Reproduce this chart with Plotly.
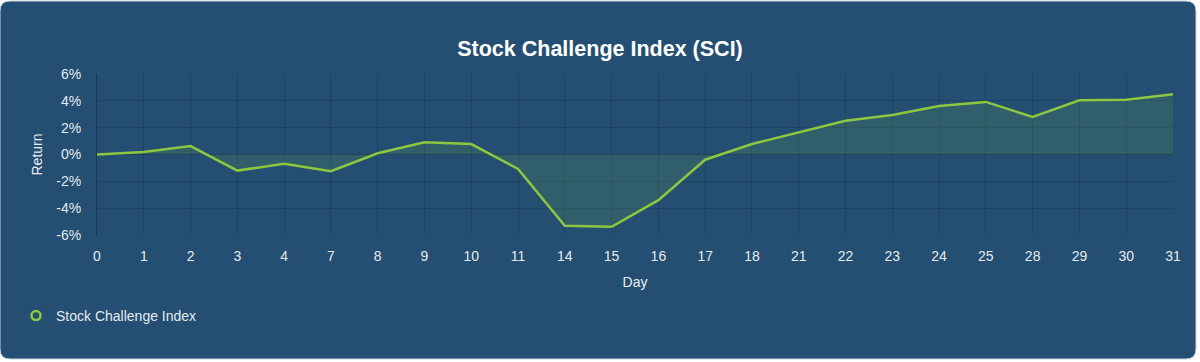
import plotly.graph_objects as go

days = ["0", "1", "2", "3", "4", "7", "8", "9", "10", "11", "14", "15", "16", "17",
        "18", "21", "22", "23", "24", "25", "28", "29", "30", "31"]
returns = [0.0, 0.18, 0.63, -1.2, -0.69, -1.25, 0.09, 0.91, 0.78, -1.08, -5.31, -5.39,
           -3.4, -0.39, 0.78, 1.66, 2.52, 2.95, 3.62, 3.92, 2.80, 4.04, 4.09, 4.49]
y_tick_values = [-6, -4, -2, 0, 2, 4, 6]
y_tick_labels = ["-6%", "-4%", "-2%", "0%", "2%", "4%", "6%"]
series_name = "Stock Challenge Index"
title_text = "Stock Challenge Index (SCI)"

W, H = 1200, 362
L, R, T, B = 97, 27, 74, 127
pw, ph = W - L - R, H - T - B

def px(x):
    return (x - L) / pw

def py(y):
    return (H - B - y) / ph

BG = "#244f72"
GREEN = "#8dc63f"
TXT = "rgba(255,255,255,0.9)"

# rounded card path in paper coordinates
x0, x1, y0, y1, rr = 0, 1196, 1, 359, 10
path = (
    f"M {px(x0 + rr)} {py(y0)} L {px(x1 - rr)} {py(y0)} "
    f"Q {px(x1)} {py(y0)} {px(x1)} {py(y0 + rr)} "
    f"L {px(x1)} {py(y1 - rr)} Q {px(x1)} {py(y1)} {px(x1 - rr)} {py(y1)} "
    f"L {px(x0 + rr)} {py(y1)} Q {px(x0)} {py(y1)} {px(x0)} {py(y1 - rr)} "
    f"L {px(x0)} {py(y0 + rr)} Q {px(x0)} {py(y0)} {px(x0 + rr)} {py(y0)} Z"
)

fig = go.Figure()
fig.add_trace(go.Scatter(
    x=days, y=returns, mode="lines", fill="tozeroy",
    fillcolor="rgba(141,198,63,0.13)",
    line=dict(color=GREEN, width=2.5), showlegend=False, name=series_name,
))
fig.add_trace(go.Scatter(
    x=[None], y=[None], mode="markers", name=series_name,
    marker=dict(symbol="circle-open", color=GREEN, size=9, line=dict(width=2.5, color=GREEN)),
))

font_family = "Liberation Sans, Arial, sans-serif"
fig.update_layout(
    width=W, height=H,
    margin=dict(l=L, r=R, t=T, b=B, pad=0),
    paper_bgcolor="white",
    plot_bgcolor="rgba(0,0,0,0)",
    font=dict(family=font_family, color=TXT, size=14),
    title=dict(text=f"<b>{title_text}</b>", x=0.5, xanchor="center",
               y=1 - 48 / H, yanchor="middle",
               font=dict(size=21.5, color="white", family=font_family)),
    shapes=[dict(type="path", path=path, xref="paper", yref="paper",
                 fillcolor=BG, line=dict(width=1, color="#c9d3dc"), layer="below")],
    xaxis=dict(
        type="category", range=[0, len(days) - 1],
        showgrid=True, gridcolor="rgba(0,0,0,0.13)", gridwidth=1,
        zeroline=False, showline=False, ticks="",
        ticklabelstandoff=11,
        tickfont=dict(size=14, color=TXT),
        title=dict(text="Day", standoff=14, font=dict(size=14, color=TXT)),
    ),
    yaxis=dict(
        range=[-6, 6], tickvals=y_tick_values, ticktext=y_tick_labels,
        showgrid=True, gridcolor="rgba(0,0,0,0.13)", gridwidth=1,
        zeroline=True, zerolinecolor="rgba(0,0,0,0.25)", zerolinewidth=1,
        showline=True, linecolor="rgba(0,0,0,0.3)", linewidth=1,
        ticks="", ticklabelstandoff=12,
        tickfont=dict(size=14, color=TXT),
        title=dict(text="Return", standoff=10, font=dict(size=14, color=TXT)),
    ),
    legend=dict(orientation="h", x=px(16), y=py(316), xanchor="left", yanchor="middle",
                bgcolor="rgba(0,0,0,0)", font=dict(size=14, color=TXT),
                itemwidth=30),
)

fig.write_html("out.html", config={"displayModeBar": False},
               post_script="document.body.style.margin='0';document.body.style.overflow='hidden';")
